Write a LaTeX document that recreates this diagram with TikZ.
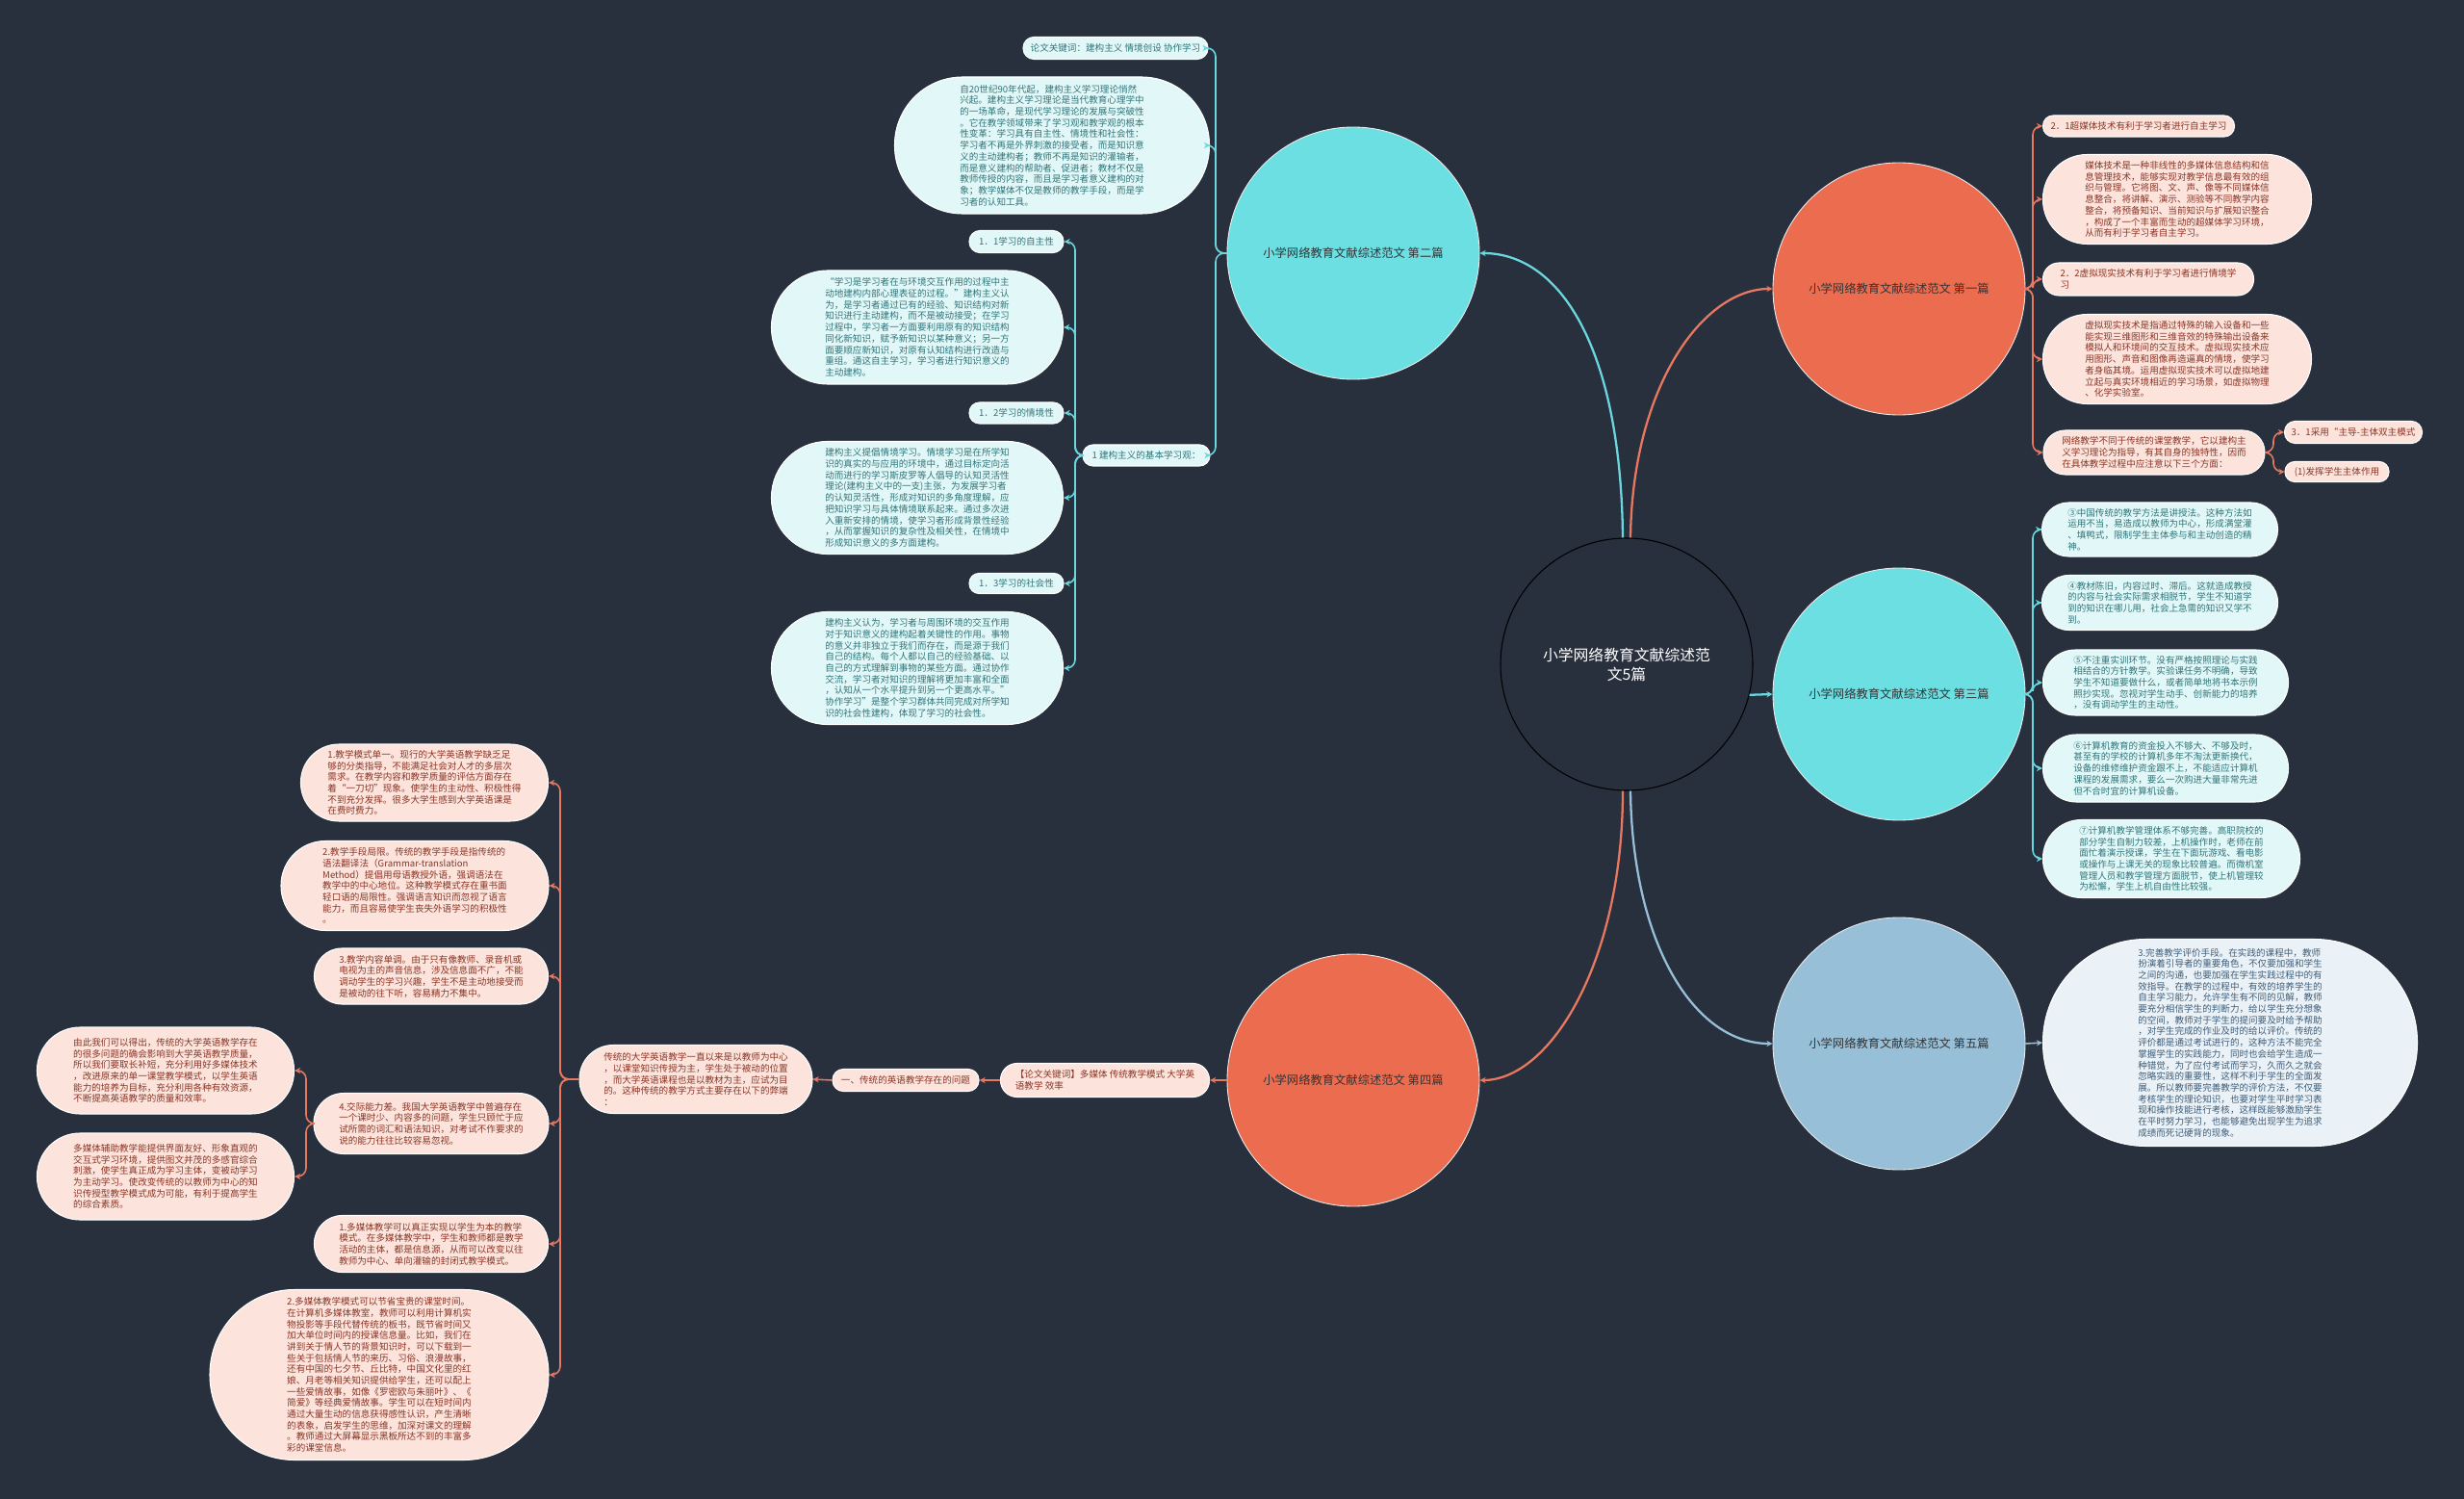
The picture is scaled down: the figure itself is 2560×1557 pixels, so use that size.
\documentclass[tikz,border=0pt]{standalone}
\usepackage{fontspec}
\setmainfont{Noto Sans CJK SC}
\usetikzlibrary{arrows.meta}
\definecolor{bg}{HTML}{282F3D}
\definecolor{cy}{HTML}{6CDFE3}
\definecolor{cyline}{HTML}{6AD6DD}
\definecolor{cyfill}{HTML}{E2F8F8}
\definecolor{cytext}{HTML}{2F7479}
\definecolor{org}{HTML}{EC6C50}
\definecolor{orline}{HTML}{E8785F}
\definecolor{orfill}{HTML}{FCE3DB}
\definecolor{ortext}{HTML}{8A3526}
\definecolor{lb}{HTML}{97BFD8}
\definecolor{lbfill}{HTML}{EAF2F8}
\definecolor{lbtext}{HTML}{3E5C78}
\newcommand\bx[7]{\node[#1, minimum width=#5*0.02cm, minimum height=#6*0.02cm, rounded corners=#6*0.01cm-0.2pt] (#2) at (#3,#4) {#7};}
\tikzset{
  small/.style={font=\fontsize{5.45pt}{6.65pt}\selectfont},
  boxbase/.style={small, inner sep=0pt, align=left, line width=0.6pt, draw=white},
  tc/.style={boxbase, fill=cyfill, text=cytext},
  to/.style={boxbase, fill=orfill, text=ortext},
  tb/.style={boxbase, fill=lbfill, text=lbtext},
  branch/.style={circle, minimum size=262*0.02cm, inner sep=0pt, draw=white!85!gray, line width=0.5pt, text=black!80, font=\fontsize{7pt}{9pt}\selectfont},
  tipc/.style={-{Stealth[length=3.5pt,width=3.5pt]}},
  cc/.style={draw=cyline, line width=0.9pt, rounded corners=5pt, tipc},
  co/.style={draw=orline, line width=0.9pt, rounded corners=5pt, tipc},
  cb/.style={draw=lb, line width=0.9pt, rounded corners=5pt, tipc},
  mainc/.style={line width=1.3pt, tipc},
}
\begin{document}
\begin{tikzpicture}[x=0.02cm,y=-0.02cm]
\fill[bg] (0,0) rectangle (2560,1557);
\useasboundingbox (0,0) rectangle (2560,1557);

% center
\node[circle, minimum size=262*0.02cm, inner sep=0pt, fill=bg, draw=black, line width=0.6pt, text=white, align=center, font=\fontsize{9pt}{11.5pt}\selectfont] (Cn) at (1690,690) {小学网络教育文献综述范\\文5篇};

% branches
\node[branch, fill=cy] (B2) at (1406,263) {小学网络教育文献综述范文 第二篇};
\node[branch, fill=org] (B1) at (1973,300) {小学网络教育文献综述范文 第一篇};
\node[branch, fill=cy] (B3) at (1973,721) {小学网络教育文献综述范文 第三篇};
\node[branch, fill=lb] (B5) at (1973,1084) {小学网络教育文献综述范文 第五篇};
\node[branch, fill=org] (B4) at (1406,1122) {小学网络教育文献综述范文 第四篇};

% main connectors
\draw[mainc, draw=cyline] ([xshift=-0.08cm]Cn.north) .. controls (1684,360) and (1620,263) .. (B2.east);
\draw[mainc, draw=orline] ([xshift=0.08cm]Cn.north) .. controls (1696,400) and (1770,300) .. (B1.west);
\draw[mainc, draw=cyline] (Cn.-14) -- (B3.west);
\draw[mainc, draw=orline] ([xshift=-0.08cm]Cn.south) .. controls (1686,1000) and (1610,1122) .. (B4.east);
\draw[mainc, draw=lb] ([xshift=0.08cm]Cn.south) .. controls (1696,980) and (1760,1084) .. (B5.west);

% ---------- branch 2 ----------
\bx{tc}{k2}{1159}{50}{192}{23}{论文关键词：建构主义 情境创设 协作学习}
\bx{tc}{p2}{1093}{151}{327}{142}{自20世纪90年代起，建构主义学习理论悄然\\兴起。建构主义学习理论是当代教育心理学中\\的一场革命，是现代学习理论的发展与突破性\\。它在教学领域带来了学习观和教学观的根本\\性变革：学习具有自主性、情境性和社会性：\\学习者不再是外界刺激的接受者，而是知识意\\义的主动建构者；教师不再是知识的灌输者，\\而是意义建构的帮助者、促进者；教材不仅是\\教师传授的内容，而且是学习者意义建构的对\\象；教学媒体不仅是教师的教学手段，而是学\\习者的认知工具。}
\bx{tc}{g1}{1191}{473}{132}{22}{1 建构主义的基本学习观：}
\bx{tc}{s11}{1056}{251}{98}{23}{1．1学习的自主性}
\bx{tc}{q11}{953}{340}{303}{118}{“学习是学习者在与环境交互作用的过程中主\\动地建构内部心理表征的过程。”建构主义认\\为，是学习者通过已有的经验、知识结构对新\\知识进行主动建构，而不是被动接受；在学习\\过程中，学习者一方面要利用原有的知识结构\\同化新知识，赋予新知识以某种意义；另一方\\面要顺应新知识，对原有认知结构进行改造与\\重组。通这自主学习，学习者进行知识意义的\\主动建构。}
\bx{tc}{s12}{1056}{429}{98}{22}{1．2学习的情境性}
\bx{tc}{q12}{953}{517}{303}{117}{建构主义提倡情境学习。情境学习是在所学知\\识的真实的与应用的环境中，通过目标定向活\\动而进行的学习斯皮罗等人倡导的认知灵活性\\理论(建构主义中的一支)主张，为发展学习者\\的认知灵活性，形成对知识的多角度理解，应\\把知识学习与具体情境联系起来。通过多次进\\入重新安排的情境，使学习者形成背景性经验\\，从而掌握知识的复杂性及相关性，在情境中\\形成知识意义的多方面建构。}
\bx{tc}{s13}{1056}{606}{98}{21}{1．3学习的社会性}
\bx{tc}{q13}{953}{694}{303}{117}{建构主义认为，学习者与周围环境的交互作用\\对于知识意义的建构起着关键性的作用。事物\\的意义并非独立于我们而存在，而是源于我们\\自己的结构。每个人都以自己的经验基础、以\\自己的方式理解到事物的某些方面。通过协作\\交流，学习者对知识的理解将更加丰富和全面\\，认知从一个水平提升到另一个更高水平。”\\协作学习”是整个学习群体共同完成对所学知\\识的社会性建构，体现了学习的社会性。}

\coordinate (b2) at (1263,0);
\coordinate (b2b) at (1117,0);
\foreach \c in {k2,p2,g1} \draw[cc] (B2.west) -| (b2 |- \c.east) -- (\c.east);
\foreach \c in {s11,q11,s12,q12,s13,q13} \draw[cc] (g1.west) -| (b2b |- \c.east) -- (\c.east);

% ---------- branch 1 ----------
\bx{to}{a21}{2222}{131}{199}{22}{2．1超媒体技术有利于学习者进行自主学习}
\bx{to}{a21p}{2262}{207}{279}{93}{媒体技术是一种非线性的多媒体信息结构和信\\息管理技术，能够实现对教学信息最有效的组\\织与管理。它将图、文、声、像等不同媒体信\\息整合，将讲解、演示、测验等不同教学内容\\整合，将预备知识、当前知识与扩展知识整合\\，构成了一个丰富而生动的超媒体学习环境，\\从而有利于学习者自主学习。}
\bx{to}{a22}{2232}{290}{219}{34}{2．2虚拟现实技术有利于学习者进行情境学\\习}
\bx{to}{a22p}{2262}{373}{279}{93}{虚拟现实技术是指通过特殊的输入设备和一些\\能实现三维图形和三维音效的特殊输出设备来\\模拟人和环境间的交互技术。虚拟现实技术应\\用图形、声音和图像再造逼真的情境，使学习\\者身临其境。运用虚拟现实技术可以虚拟地建\\立起与真实环境相近的学习场景，如虚拟物理\\、化学实验室。}
\bx{to}{a3}{2238}{470}{230}{46}{网络教学不同于传统的课堂教学，它以建构主\\义学习理论为指导，有其自身的独特性，因而\\在具体教学过程中应注意以下三个方面：}
\bx{to}{a31}{2445}{449}{143}{23}{3．1采用“主导-主体双主模式}
\bx{to}{a32}{2428}{490}{108}{21}{(1)发挥学生主体作用}

\coordinate (b1) at (2112,0);
\coordinate (b1b) at (2362,0);
\foreach \c in {a21,a21p,a22,a22p,a3} \draw[co] (B1.east) -| (b1 |- \c.west) -- (\c.west);
\foreach \c in {a31,a32} \draw[co] (a3.east) -| (b1b |- \c.west) -- (\c.west);

% ---------- branch 3 ----------
\bx{tc}{c3}{2244}{550}{245}{56}{③中国传统的教学方法是讲授法。这种方法如\\运用不当，易造成以教师为中心，形成满堂灌\\、填鸭式，限制学生主体参与和主动创造的精\\神。}
\bx{tc}{c4}{2244}{626}{245}{57}{④教材陈旧，内容过时、滞后。这就造成教授\\的内容与社会实际需求相脱节，学生不知道学\\到的知识在哪儿用，社会上急需的知识又学不\\到。}
\bx{tc}{c5}{2250}{709}{255}{68}{⑤不注重实训环节。没有严格按照理论与实践\\相结合的方针教学。实验课任务不明确，导致\\学生不知道要做什么，或者简单地将书本示例\\照抄实现。忽视对学生动手、创新能力的培养\\，没有调动学生的主动性。}
\bx{tc}{c6}{2250}{798}{255}{70}{⑥计算机教育的资金投入不够大、不够及时，\\甚至有的学校的计算机多年不淘汰更新换代，\\设备的维修维护资金跟不上，不能适应计算机\\课程的发展需求，要么一次购进大量非常先进\\但不合时宜的计算机设备。}
\bx{tc}{c7}{2256}{892}{267}{81}{⑦计算机教学管理体系不够完善。高职院校的\\部分学生自制力较差，上机操作时，老师在前\\面忙着演示授课，学生在下面玩游戏、看电影\\或操作与上课无关的现象比较普遍。而微机室\\管理人员和教学管理方面脱节，使上机管理较\\为松懈，学生上机自由性比较强。}

\coordinate (b3) at (2112,0);
\foreach \c in {c3,c4,c5,c6,c7} \draw[cc] (B3.east) -| (b3 |- \c.west) -- (\c.west);

% ---------- branch 5 ----------
\bx{tb}{e1}{2317}{1083}{389}{215}{3.完善教学评价手段。在实践的课程中，教师\\扮演着引导者的重要角色，不仅要加强和学生\\之间的沟通，也要加强在学生实践过程中的有\\效指导。在教学的过程中，有效的培养学生的\\自主学习能力，允许学生有不同的见解，教师\\要充分相信学生的判断力，给以学生充分想象\\的空间，教师对于学生的提问要及时给予帮助\\，对学生完成的作业及时的给以评价。传统的\\评价都是通过考试进行的，这种方法不能完全\\掌握学生的实践能力，同时也会给学生造成一\\种错觉，为了应付考试而学习，久而久之就会\\忽略实践的重要性，这样不利于学生的全面发\\展。所以教师要完善教学的评价方法，不仅要\\考核学生的理论知识，也要对学生平时学习表\\现和操作技能进行考核，这样既能够激励学生\\在平时努力学习，也能够避免出现学生为追求\\成绩而死记硬背的现象。}
\draw[cb] (B5.east) -- (e1.west);

% ---------- branch 4 ----------
\bx{to}{d1}{1148}{1122}{217}{35}{【论文关键词】多媒体 传统教学模式 大学英\\语教学 效率}
\bx{to}{d2}{941}{1122}{152}{23}{一、传统的英语教学存在的问题}
\bx{to}{d3}{723}{1121}{242}{71}{传统的大学英语教学一直以来是以教师为中心\\，以课堂知识传授为主，学生处于被动的位置\\，而大学英语课程也是以教材为主，应试为目\\的。这种传统的教学方式主要存在以下的弊端\\：}
\bx{to}{f1}{441}{813}{257}{80}{1.教学模式单一。现行的大学英语教学缺乏足\\够的分类指导，不能满足社会对人才的多层次\\需求。在教学内容和教学质量的评估方面存在\\着“一刀切”现象。使学生的主动性、积极性得\\不到充分发挥。很多大学生感到大学英语课是\\在费时费力。}
\bx{to}{f2}{431}{920}{278}{93}{2.教学手段局限。传统的教学手段是指传统的\\语法翻译法（Grammar-translation\\Method）提倡用母语教授外语，强调语法在\\教学中的中心地位。这种教学模式存在重书面\\轻口语的局限性。强调语言知识而忽视了语言\\能力，而且容易使学生丧失外语学习的积极性\\。}
\bx{to}{f3}{448}{1014}{243}{58}{3.教学内容单调。由于只有像教师、录音机或\\电视为主的声音信息，涉及信息面不广，不能\\调动学生的学习兴趣，学生不是主动地接受而\\是被动的往下听，容易精力不集中。}
\bx{to}{f4}{448}{1167}{244}{63}{4.交际能力差。我国大学英语教学中普遍存在\\一个课时少、内容多的问题，学生只顾忙于应\\试所需的词汇和语法知识，对考试不作要求的\\说的能力往往比较容易忽视。}
\bx{to}{g1a}{172}{1112}{267}{90}{由此我们可以得出，传统的大学英语教学存在\\的很多问题的确会影响到大学英语教学质量，\\所以我们要取长补短，充分利用好多媒体技术\\，改进原来的单一课堂教学模式，以学生英语\\能力的培养为目标，充分利用各种有效资源，\\不断提高英语教学的质量和效率。}
\bx{to}{g2a}{172}{1222}{267}{90}{多媒体辅助教学能提供界面友好、形象直观的\\交互式学习环境，提供图文并茂的多感官综合\\刺激，使学生真正成为学习主体，变被动学习\\为主动学习。使改变传统的以教师为中心的知\\识传授型教学模式成为可能，有利于提高学生\\的综合素质。}
\bx{to}{f5}{448}{1292}{243}{59}{1.多媒体教学可以真正实现以学生为本的教学\\模式。在多媒体教学中，学生和教师都是教学\\活动的主体，都是信息源，从而可以改变以往\\教师为中心、单向灌输的封闭式教学模式。}
\bx{to}{f6}{394}{1428}{352}{177}{2.多媒体教学模式可以节省宝贵的课堂时间。\\在计算机多媒体教室，教师可以利用计算机实\\物投影等手段代替传统的板书，既节省时间又\\加大单位时间内的授课信息量。比如，我们在\\讲到关于情人节的背景知识时，可以下载到一\\些关于包括情人节的来历、习俗、浪漫故事，\\还有中国的七夕节、丘比特，中国文化里的红\\娘、月老等相关知识提供给学生，还可以配上\\一些爱情故事，如像《罗密欧与朱丽叶》、《\\简爱》等经典爱情故事。学生可以在短时间内\\通过大量生动的信息获得感性认识，产生清晰\\的表象，启发学生的思维，加深对课文的理解\\。教师通过大屏幕显示黑板所达不到的丰富多\\彩的课堂信息。}

\draw[co] (B4.west) -- (d1.east);
\draw[co] (d1.west) -- (d2.east);
\draw[co] (d2.west) -- (d3.east);
\coordinate (b4) at (582,0);
\coordinate (b4b) at (318,0);
\foreach \c in {f1,f2,f3,f4,f5,f6} \draw[co] (d3.west) -| (b4 |- \c.east) -- (\c.east);
\foreach \c in {g1a,g2a} \draw[co] (f4.west) -| (b4b |- \c.east) -- (\c.east);
\end{tikzpicture}
\end{document}
